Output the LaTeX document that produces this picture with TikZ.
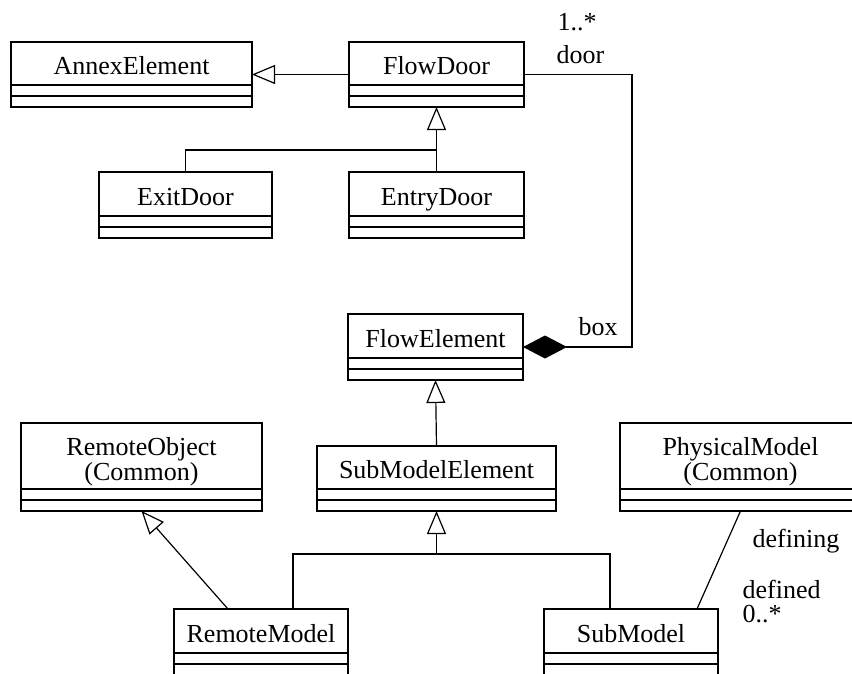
\documentclass[tikz,border=0pt]{standalone}
\usepackage{fontspec}
\setmainfont{Liberation Serif}
\usetikzlibrary{arrows.meta}
\newcommand\umlbox[7]{%
  \pgfmathsetmacro\bw{#4-#2}\pgfmathsetmacro\bh{#6-#3}%
  \node[box, minimum width=\bw pt, minimum height=\bh pt] (#1) at (#2,#3) {};
  \draw (#2,#5) -- (#4,#5) (#2,#5+11) -- (#4,#5+11);
  \node[lbl] (#1-t) at ({(#2+#4)/2},#5-11) {#7};
}
\newcommand\umlboxtwo[8]{%
  \pgfmathsetmacro\bw{#4-#2}\pgfmathsetmacro\bh{#6-#3}%
  \node[box, minimum width=\bw pt, minimum height=\bh pt] (#1) at (#2,#3) {};
  \draw (#2,#5) -- (#4,#5) (#2,#5+11) -- (#4,#5+11);
  \node[lbl, anchor=center, align=center] (#1-t) at ({(#2+#4)/2},#7) {#8};
}
\begin{document}
\begin{tikzpicture}[x=1pt,y=-1pt, line width=1.2pt,
  box/.style={draw, inner sep=0pt, outer sep=0pt, anchor=north west},
  lbl/.style={font=\fontsize{26}{20}\selectfont, inner sep=0pt, anchor=base},
  txt/.style={font=\fontsize{26}{20}\selectfont, inner sep=0pt, anchor=base west},
  gen/.style={-{Triangle[open,length=23pt,width=19pt,line width=1.2pt]}},
  comp/.style={-{Diamond[length=44pt,width=23pt]}}]
\useasboundingbox (0,0) rectangle (852,673);
\clip (0,0) rectangle (852,673);
\fill[white] (0,0) rectangle (852,673);

\umlbox{annex}{11}{42}{252}{85}{107}{AnnexElement}
\umlbox{flowdoor}{349}{42}{524}{85}{107}{FlowDoor}
\umlbox{exit}{99}{172}{272}{216}{238}{ExitDoor}
\umlbox{entry}{349}{172}{524}{216}{238}{EntryDoor}
\umlbox{flowelem}{348}{314}{523}{358}{380}{FlowElement}
\umlbox{subme}{317}{446}{556}{489}{511}{SubModelElement}
\umlboxtwo{remobj}{21}{423}{262}{489}{511}{462}{RemoteObject\\(Common)}
\umlboxtwo{phys}{620}{423}{861}{489}{511}{462}{PhysicalModel\\(Common)}
\umlbox{remote}{174}{609}{348}{653}{690}{RemoteModel}
\umlbox{submodel}{544}{609}{718}{653}{690}{SubModel}

\node[txt] (m1) at (557,30) {1..*};
\node[txt] (r1) at (556,63) {door};
\node[txt] (r2) at (578,335) {box};
\node[txt] (r3) at (752,547) {defining};
\node[txt] (r4) at (742,598) {defined};
\node[txt] (m2) at (742,622) {0..*};

\draw[gen] (flowdoor.west) -- (annex.east);
\coordinate (j1) at (436.5,150);
\draw (exit.north) |- (j1);
\draw[gen] (entry.north) -- (flowdoor.south);
\coordinate (c1) at (632,74.5);
\draw[comp] (flowdoor.east) -- (c1) |- (flowelem.east);
\draw[gen] (subme.north) -- (flowelem.south);
\coordinate (j2) at (436.5,554);
\draw ([xshift=32pt]remote.north) |- (j2) -| ([xshift=-21pt]submodel.north);
\draw[gen] (j2) -- (subme.south);
\draw[gen] ([xshift=-33pt]remote.north) -- (remobj.south);
\draw ([xshift=66pt]submodel.north) -- (phys.south);
\end{tikzpicture}
\end{document}
